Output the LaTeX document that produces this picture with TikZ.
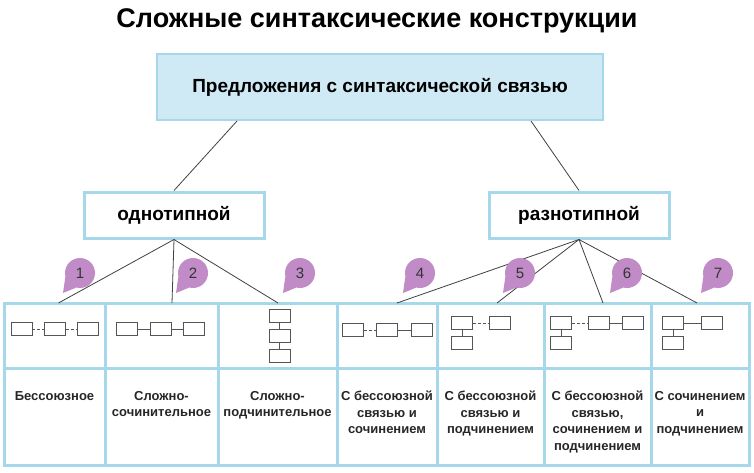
\documentclass[tikz,border=0pt]{standalone}
\usepackage{fontspec}
\setmainfont{Liberation Sans}
\usetikzlibrary{positioning}
\definecolor{tblue}{HTML}{A6D8EA}
\definecolor{lblue}{HTML}{CFEAF5}
\definecolor{purp}{HTML}{C08BC7}
\definecolor{sgray}{HTML}{555555}
\begin{document}
\begin{tikzpicture}[x=1pt,y=-1pt,
	cell/.style={draw=tblue,line width=3pt,rectangle,inner sep=0pt,outer sep=0pt},
	head/.style={draw=tblue,line width=3pt,rectangle,fill=white,minimum width=180pt,minimum height=46pt,font=\bfseries\fontsize{19}{22}\selectfont},
	sbox/.style={draw=sgray,line width=0.9pt,rectangle,minimum width=21pt,minimum height=13pt,inner sep=0pt},
	badge/.style={circle,fill=purp,minimum size=30pt,inner sep=0pt,text=black!80,font=\fontsize{15}{15}\selectfont},
	txt/.style={align=center,inner sep=0pt,text=black!85,font=\bfseries\fontsize{13}{16.5}\selectfont},
	link/.style={line width=0.8pt,black!75}]
	
	\useasboundingbox (0,0) rectangle (754,473);
	
	% cim
	\node[font=\bfseries\fontsize{27}{30}\selectfont] (title) at (377,21) {Сложные синтаксические конструкции};
	
	% felso blokkok
	\node[draw=tblue,fill=lblue,line width=2pt,rectangle,minimum width=446pt,minimum height=66pt,font=\bfseries\fontsize{19}{22}\selectfont] (pred) at (380,87) {Предложения с синтаксической связью};
	\node[head] (odn) at (174,215) {однотипной};
	\node[head] (razn) at (579,215) {разнотипной};
	
	\draw [link] ([xshift=81pt]pred.south west) -- (odn.north);
	\draw [link] ([xshift=-73pt]pred.south east) -- (razn.north);
	
	% tablazat, felso sor
	\node[cell,minimum width=101pt,minimum height=65pt] (t1) at (54.5,335.5) {};
	\node[cell,minimum width=113pt,minimum height=65pt] (t2) at (161.5,335.5) {};
	\node[cell,minimum width=119pt,minimum height=65pt] (t3) at (277.5,335.5) {};
	\node[cell,minimum width=100pt,minimum height=65pt] (t4) at (387,335.5) {};
	\node[cell,minimum width=107pt,minimum height=65pt] (t5) at (490.5,335.5) {};
	\node[cell,minimum width=107pt,minimum height=65pt] (t6) at (597.5,335.5) {};
	\node[cell,minimum width=98pt,minimum height=65pt] (t7) at (700,335.5) {};
	
	% tablazat, also sor
	\node[cell,minimum width=101pt,minimum height=97pt] (c1) at (54.5,416.5) {};
	\node[cell,minimum width=113pt,minimum height=97pt] (c2) at (161.5,416.5) {};
	\node[cell,minimum width=119pt,minimum height=97pt] (c3) at (277.5,416.5) {};
	\node[cell,minimum width=100pt,minimum height=97pt] (c4) at (387,416.5) {};
	\node[cell,minimum width=107pt,minimum height=97pt] (c5) at (490.5,416.5) {};
	\node[cell,minimum width=107pt,minimum height=97pt] (c6) at (597.5,416.5) {};
	\node[cell,minimum width=98pt,minimum height=97pt] (c7) at (700,416.5) {};
	
	% feliratok
	\node[txt,below=23pt of c1.north] (l1) {Бессоюзное};
	\node[txt,below=23pt of c2.north] (l2) {Сложно-\\сочинительное};
	\node[txt,below=23pt of c3.north] (l3) {Сложно-\\подчинительное};
	\node[txt,below=23pt of c4.north] (l4) {С бессоюзной\\связью и\\сочинением};
	\node[txt,below=23pt of c5.north] (l5) {С бессоюзной\\связью и\\подчинением};
	\node[txt,below=23pt of c6.north] (l6) {С бессоюзной\\связью,\\сочинением и\\подчинением};
	\node[txt,below=23pt of c7.north] (l7) {С сочинением\\и\\подчинением};
	
	% agak
	\draw [link] (odn.south) -- ([xshift=4pt]t1.north);
	\draw [link] (odn.south) -- ([xshift=10.5pt]t2.north);
	\draw [link] (odn.south) -- ([xshift=0.5pt]t3.north);
	\draw [link] (razn.south) -- ([xshift=10pt]t4.north);
	\draw [link] (razn.south) -- ([xshift=6.5pt]t5.north);
	\draw [link] (razn.south) -- ([xshift=5.5pt]t6.north);
	\draw [link] (razn.south) -- ([xshift=-3pt]t7.north);
	
	% szamok
	\node[badge] (b1) at (80,273) {1};
	\node[badge] (b2) at (193,273) {2};
	\node[badge] (b3) at (300,273) {3};
	\node[badge] (b4) at (420,273) {4};
	\node[badge] (b5) at (520,273) {5};
	\node[badge] (b6) at (627,273) {6};
	\node[badge] (b7) at (718,273) {7};
	\fill[purp] (b1.195) -- ([xshift=-17pt,yshift=-20pt]b1.center) -- (b1.255) -- cycle;
	\fill[purp] (b2.195) -- ([xshift=-17pt,yshift=-20pt]b2.center) -- (b2.255) -- cycle;
	\fill[purp] (b3.195) -- ([xshift=-17pt,yshift=-20pt]b3.center) -- (b3.255) -- cycle;
	\fill[purp] (b4.195) -- ([xshift=-17pt,yshift=-20pt]b4.center) -- (b4.255) -- cycle;
	\fill[purp] (b5.195) -- ([xshift=-17pt,yshift=-20pt]b5.center) -- (b5.255) -- cycle;
	\fill[purp] (b6.195) -- ([xshift=-17pt,yshift=-20pt]b6.center) -- (b6.255) -- cycle;
	\fill[purp] (b7.195) -- ([xshift=-17pt,yshift=-20pt]b7.center) -- (b7.255) -- cycle;
	
	% semak
	\node[sbox] (s1a) at (21.5,329) {};
	\node[sbox] (s1b) at (55,329) {};
	\node[sbox] (s1c) at (88,329) {};
	\draw [sgray,densely dashed] (s1a) -- (s1b);
	\draw [sgray,densely dashed] (s1b) -- (s1c);
	
	\node[sbox] (s2a) at (127,329) {};
	\node[sbox] (s2b) at (161,329) {};
	\node[sbox] (s2c) at (194,329) {};
	\draw [sgray] (s2a) -- (s2b);
	\draw [sgray] (s2b) -- (s2c);
	
	\node[sbox] (s3a) at (279.5,316) {};
	\node[sbox] (s3b) at (279.5,335.5) {};
	\node[sbox] (s3c) at (279.5,355.5) {};
	\draw [sgray] (s3a) -- (s3b);
	\draw [sgray] (s3b) -- (s3c);
	
	\node[sbox] (s4a) at (353,330) {};
	\node[sbox] (s4b) at (387,330) {};
	\node[sbox] (s4c) at (421.5,330) {};
	\draw [sgray,densely dashed] (s4a) -- (s4b);
	\draw [sgray] (s4b) -- (s4c);
	
	\node[sbox] (s5a) at (462,323) {};
	\node[sbox] (s5b) at (462,343) {};
	\node[sbox] (s5c) at (499.5,323) {};
	\draw [sgray,densely dashed] (s5a) -- (s5c);
	\draw [sgray] (s5a) -- (s5b);
	
	\node[sbox] (s6a) at (561,323) {};
	\node[sbox] (s6b) at (561,343) {};
	\node[sbox] (s6c) at (599,323) {};
	\node[sbox] (s6d) at (633,323) {};
	\draw [sgray,densely dashed] (s6a) -- (s6c);
	\draw [sgray] (s6c) -- (s6d);
	\draw [sgray] (s6a) -- (s6b);
	
	\node[sbox] (s7a) at (673,323) {};
	\node[sbox] (s7b) at (673,343) {};
	\node[sbox] (s7c) at (711.5,323) {};
	\draw [sgray] (s7a) -- (s7c);
	\draw [sgray] (s7a) -- (s7b);
\end{tikzpicture}
\end{document}
